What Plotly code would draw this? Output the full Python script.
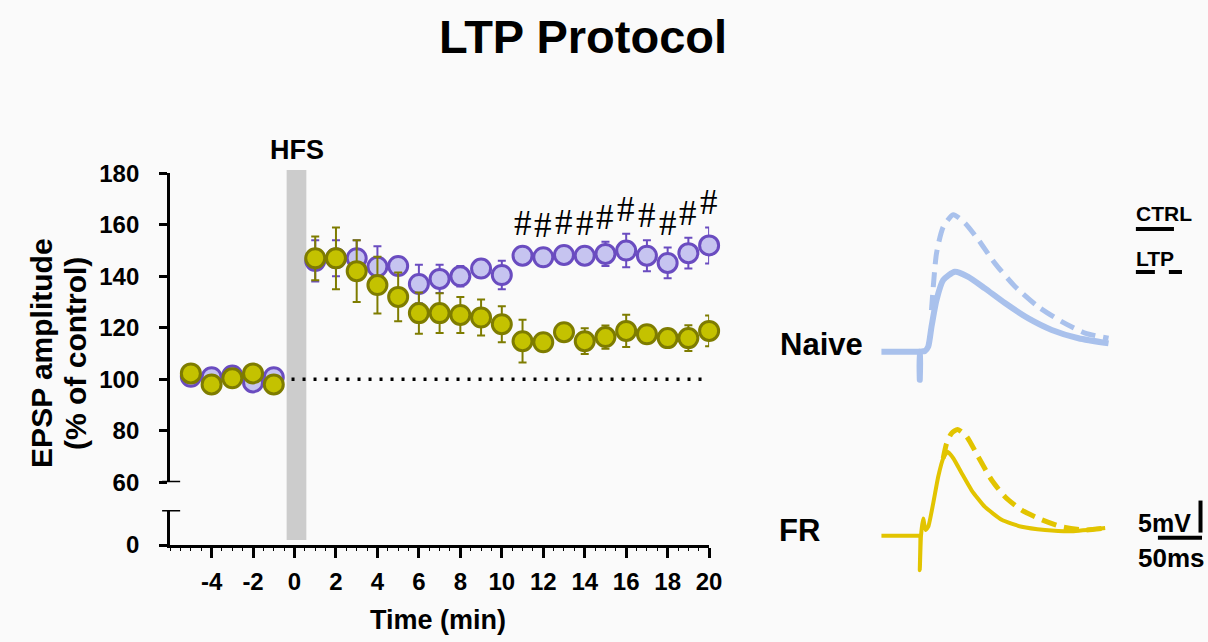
import plotly.graph_objects as go

# ---------------- data ----------------
time_min = [-5, -4, -3, -2, -1, 1, 2, 3, 4, 5, 6, 7, 8, 9, 10,
            11, 12, 13, 14, 15, 16, 17, 18, 19, 20]
naive_amp = [101.0, 100.8, 101.5, 98.8, 100.8,
             146.0, 147.0, 147.0, 143.7, 144.0, 137.0, 139.0, 140.0, 143.0, 140.5,
             148.0, 147.4, 148.3, 148.0, 148.7, 150.0, 148.0, 145.2, 149.0, 152.0]
naive_sem = [1.5, 1.5, 1.5, 1.5, 1.5,
             8.0, 7.0, 7.0, 8.0, 3.0, 7.5, 5.5, 4.0, 3.0, 5.5,
             3.0, 3.0, 3.0, 3.0, 4.7, 6.5, 6.0, 6.0, 6.0, 7.0]
fr_amp = [102.3, 98.0, 100.4, 102.3, 98.0,
          147.0, 147.0, 142.0, 136.6, 132.0, 125.7, 125.7, 125.0, 124.0, 121.4,
          114.8, 114.4, 118.3, 114.8, 116.4, 118.8, 117.5, 116.0, 116.0, 118.8]
fr_sem = [1.5, 1.5, 1.5, 1.5, 1.5,
          8.5, 12.0, 12.0, 11.0, 9.5, 8.0, 7.7, 7.0, 7.0, 7.0,
          8.3, 3.0, 3.0, 5.0, 4.5, 6.3, 3.0, 3.0, 5.0, 6.0]
sig_times = [11, 12, 13, 14, 15, 16, 17, 18, 19, 20]
sig_label = "#"
baseline_pct = 100
hfs_start, hfs_end = -0.38, 0.57

x_ticks = [-4, -2, 0, 2, 4, 6, 8, 10, 12, 14, 16, 18, 20]
x_tick_labels = ["-4", "-2", "0", "2", "4", "6", "8", "10", "12", "14", "16", "18", "20"]
y_ticks = [60, 80, 100, 120, 140, 160, 180]
y_low_ticks = [0]

# example EPSP traces (ms, mV)
naive_ctrl_t = [0, 41.7, 43.5, 43.5, 44.2, 49.2, 53.1, 56.8, 62.5, 70.1, 83.3, 98.5,
                117.4, 140.1, 166.7, 193.2, 223.5, 257.6]
naive_ctrl_v = [0, 0, 0, -4.4, 0, 0.1, 0.8, 3.9, 8.1, 11.2, 12.5, 11.7,
                9.9, 7.6, 5.2, 3.4, 2.1, 1.3]
naive_ltp_t = [56.8, 62.5, 70.1, 81.5, 94.7, 109.9, 128.8, 151.5, 178.1, 204.5, 231.0, 257.6]
naive_ltp_v = [6.5, 15.4, 19.5, 21.4, 20.1, 17.5, 13.8, 10.2, 7.0, 4.7, 2.9, 2.1]
fr_ctrl_t = [0, 41.7, 43.5, 43.5, 44.9, 47.4, 50.0, 53.1, 58.8, 64.4, 70.1, 75.0, 81.5,
             90.9, 102.3, 117.4, 136.4, 159.1, 185.6, 215.9, 253.8]
fr_ctrl_v = [0, 0, 0, -5.4, 0, 2.7, 0.9, 1.4, 5.1, 9.2, 12.1, 13.1, 12.1,
             9.8, 7.1, 4.5, 2.5, 1.4, 0.9, 0.7, 1.2]
fr_ltp_t = [70.1, 73.9, 79.5, 86.4, 96.6, 109.9, 125.0, 140.1, 159.1, 181.8, 204.5, 231.0, 253.8]
fr_ltp_v = [12.1, 14.4, 16.0, 16.6, 15.5, 12.3, 8.7, 6.1, 4.0, 2.5, 1.4, 0.9, 1.2]
fr_offset_mv = -28.75
scale_ms = 50
scale_mv = 5

# ---------------- styling / layout helpers ----------------
FONT = "Liberation Sans, Arial, Helvetica, sans-serif"
W, H = 1208, 642
W_EFF = 1193          # plot area in the viewer ends ~15 px short of the page
ML, MR, MT, MB = 100, 0, 100, 40
PW, PH = W_EFF - ML - MR, H - MT - MB
PX_PER_MS = 0.88


def PX(px):
    return (px - ML) / PW


def PY(py):
    return (H - MB - py) / PH


PURPLE_FILL, PURPLE_LINE = "#c6c4f0", "#6a4cc0"
OLIVE_FILL, OLIVE_LINE = "#c4c200", "#7e7c00"
NAIVE_COL, FR_COL = "#a9c1ec", "#e2c400"

fig = go.Figure()

# dummy trace so the lower broken-axis segment is drawn
fig.add_trace(go.Scatter(x=[], y=[], xaxis="x", yaxis="y2", showlegend=False))

fig.add_trace(go.Scatter(
    x=time_min, y=naive_amp, mode="markers", xaxis="x", yaxis="y",
    error_y=dict(type="data", array=naive_sem, color=PURPLE_LINE, thickness=2, width=4),
    marker=dict(size=19, color=PURPLE_FILL, line=dict(color=PURPLE_LINE, width=3)),
    cliponaxis=False, showlegend=False, name="Naive"))
fig.add_trace(go.Scatter(
    x=time_min, y=fr_amp, mode="markers", xaxis="x", yaxis="y",
    error_y=dict(type="data", array=fr_sem, color=OLIVE_LINE, thickness=2, width=4),
    marker=dict(size=19, color=OLIVE_FILL, line=dict(color=OLIVE_LINE, width=3)),
    cliponaxis=False, showlegend=False, name="FR"))

# example traces
fig.add_trace(go.Scatter(x=naive_ctrl_t, y=naive_ctrl_v, mode="lines", xaxis="x2", yaxis="y3",
                         line=dict(color=NAIVE_COL, width=6, shape="spline", smoothing=0.6),
                         showlegend=False))
fig.add_trace(go.Scatter(x=naive_ltp_t, y=naive_ltp_v, mode="lines", xaxis="x2", yaxis="y3",
                         line=dict(color=NAIVE_COL, width=5, dash="15px,8px", shape="spline",
                                   smoothing=0.6),
                         showlegend=False))
fig.add_trace(go.Scatter(x=fr_ctrl_t, y=[v + fr_offset_mv for v in fr_ctrl_v], mode="lines",
                         xaxis="x2", yaxis="y3",
                         line=dict(color=FR_COL, width=4, shape="spline", smoothing=0.5),
                         showlegend=False))
fig.add_trace(go.Scatter(x=fr_ltp_t, y=[v + fr_offset_mv for v in fr_ltp_v], mode="lines",
                         xaxis="x2", yaxis="y3",
                         line=dict(color=FR_COL, width=5, dash="15px,8px", shape="spline",
                                   smoothing=0.6),
                         showlegend=False))

shapes = []
# HFS bar
shapes.append(dict(type="rect", xref="x", yref="paper", x0=hfs_start, x1=hfs_end,
                   y0=PY(540), y1=PY(170), fillcolor="#cccccc", line=dict(width=0), layer="below"))
# baseline dotted line
shapes.append(dict(type="line", xref="x", yref="y", x0=-5.45, x1=x_ticks[-1],
                   y0=baseline_pct, y1=baseline_pct,
                   line=dict(color="black", width=3.5, dash="3px,8px"), layer="below"))
# broken-axis caps
shapes.append(dict(type="line", xref="paper", yref="y", x0=PX(162), x1=PX(180),
                   y0=y_ticks[0], y1=y_ticks[0], line=dict(color="black", width=3)))
shapes.append(dict(type="line", xref="paper", yref="y2", x0=PX(162), x1=PX(180),
                   y0=13.6, y1=13.6, line=dict(color="black", width=3)))
# scale bars (50 ms horizontal, 5 mV vertical), anchored at the right edge
sb_right_px, sb_y = 1200, -29.06
shapes.append(dict(type="line", xref="paper", yref="y3",
                   x0=PX(sb_right_px - scale_ms * PX_PER_MS), x1=PX(sb_right_px),
                   y0=sb_y, y1=sb_y, line=dict(color="black", width=4)))
shapes.append(dict(type="line", xref="paper", yref="y3",
                   x0=PX(sb_right_px - 1.5), x1=PX(sb_right_px - 1.5),
                   y0=sb_y + 0.8, y1=sb_y + 0.8 + scale_mv, line=dict(color="black", width=4)))
# legend sample lines
shapes.append(dict(type="line", xref="paper", yref="paper", x0=PX(1134), x1=PX(1172),
                   y0=PY(229), y1=PY(229), line=dict(color="black", width=4)))
shapes.append(dict(type="line", xref="paper", yref="paper", x0=PX(1134), x1=PX(1180),
                   y0=PY(272), y1=PY(272), line=dict(color="black", width=4, dash="19px,14px")))

annotations = []
for t in sig_times:
    i = time_min.index(t)
    annotations.append(dict(x=t, y=naive_amp[i] + naive_sem[i] + 9.5, xref="x", yref="y",
                            text=sig_label, showarrow=False, xanchor="center", yanchor="middle",
                            font=dict(family="Liberation Serif, Times New Roman, serif",
                                      size=35, color="black")))


def label(text, px, py, size, **kw):
    annotations.append(dict(x=PX(px), y=PY(py), xref="paper", yref="paper", text=text,
                            showarrow=False, xanchor="center", yanchor="middle",
                            font=dict(family=FONT, size=size, color="black", weight="bold"),
                            **kw))


label("HFS", 297, 150, 27)
label("EPSP amplitude", 41, 353, 30, textangle=-90)
label("(% of control)", 75, 353, 30, textangle=-90)
label("Time (min)", 437, 620, 27)
label("Naive", 820, 344, 31)
label("FR", 798, 530, 31)
label("CTRL", 1162, 213, 21)
label("LTP", 1153, 258, 21)
label("5mV", 1163, 523, 25)
label("50ms", 1170, 558, 26)

axis_common = dict(showgrid=False, zeroline=False, showline=True, linecolor="black",
                   linewidth=3, ticks="outside", tickcolor="black", tickwidth=3,
                   tickfont=dict(family=FONT, size=24, color="black", weight="bold"))

fig.update_layout(
    width=W, height=H, autosize=False,
    margin=dict(l=ML, r=MR, t=MT, b=MB),
    paper_bgcolor="#fafafa", plot_bgcolor="#fafafa",
    title=dict(text="LTP Protocol", x=583 / W, xref="container", xanchor="center",
               y=1 - 37 / H, yref="container", yanchor="middle",
               font=dict(family=FONT, size=47, color="black", weight="bold")),
    xaxis=dict(domain=[PX(170), PX(708)], range=[-6, 20], anchor="y2",
               tickvals=x_ticks, ticktext=x_tick_labels, ticklen=10, ticklabelstandoff=3,
               minor=dict(dtick=0.5, ticklen=3, tickwidth=1, tickcolor="black", ticks="outside"),
               **axis_common),
    yaxis=dict(domain=[PY(482.3), PY(173.3)], range=[60, 180], anchor="x",
               tickvals=y_ticks, ticklen=8, ticklabelstandoff=15, **axis_common),
    yaxis2=dict(domain=[PY(545), PY(510)], range=[0, 13.6], anchor="x",
                tickvals=y_low_ticks, ticklen=8, ticklabelstandoff=15, **axis_common),
    xaxis2=dict(domain=[PX(870), 1], range=[-11.36, (W_EFF - 880) / PX_PER_MS], anchor="y3",
                visible=False),
    yaxis3=dict(domain=[0, 1], range=[-39.11, 39.33], anchor="x2", visible=False),
    shapes=shapes,
    annotations=annotations,
)

fig.write_html("out.html",
               config={"displayModeBar": False, "responsive": False},
               post_script="document.body.style.margin='0px';"
                           "document.body.style.overflow='hidden';")
